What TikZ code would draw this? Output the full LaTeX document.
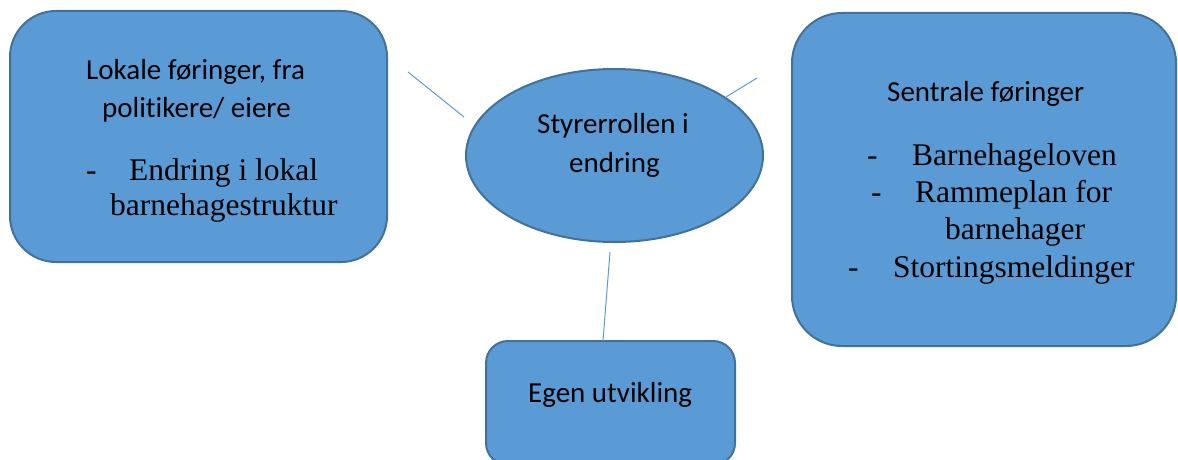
\documentclass[tikz,border=0pt]{standalone}
\usepackage{fontspec}
\setmainfont{Liberation Serif}
\newfontfamily\calfont[Ligatures={NoCommon}]{Carlito}
\usetikzlibrary{shapes.geometric}
\definecolor{boxfill}{HTML}{5B9BD5}
\definecolor{boxline}{HTML}{41719C}
\definecolor{linkcol}{HTML}{5B9BD5}
\tikzset{
  boxshape/.style={draw=boxline, fill=boxfill, line width=2pt, inner sep=0pt, outer sep=0pt},
  sanstext/.style={anchor=base west, inner sep=0pt, font=\calfont\fontsize{29}{35}\selectfont},
  seriftext/.style={anchor=base west, inner sep=0pt, font=\fontsize{31.5}{37}\selectfont},
  link/.style={draw=linkcol, line width=1pt}
}
\begin{document}
\begin{tikzpicture}[x=1pt,y=-1pt]
\useasboundingbox (0,0) rectangle (1178,460);
% boxes
\node[boxshape, rounded corners=46pt, minimum width=377pt, minimum height=251pt] (lokal) at (198.5,136.5) {};
\node[boxshape, rounded corners=50pt, minimum width=384pt, minimum height=333pt] (sentral) at (984,179.5) {};
\node[boxshape, rounded corners=22pt, minimum width=249pt, minimum height=124pt] (egen) at (610.5,403) {};
\node[boxshape, ellipse, minimum width=297pt, minimum height=173pt] (styr) at (614.5,155.5) {};
% texts
\node[sanstext] (t1) at (86,79) {Lokale føringer, fra};
\node[sanstext] (t2) at (102,117) {politikere/ eiere};
\node[seriftext] (d1) at (86,180) {-};
\node[seriftext] (t3) at (129,180) {Endring i lokal};
\node[seriftext] (t4) at (110,215) {barnehagestruktur};
\node[sanstext] (s1) at (887,102) {Sentrale føringer};
\node[seriftext] (d2) at (867,165) {-};
\node[seriftext] (s2) at (912,165) {Barnehageloven};
\node[seriftext] (d3) at (871,202) {-};
\node[seriftext] (s3) at (915,202) {Rammeplan for};
\node[seriftext] (s4) at (945,239) {barnehager};
\node[seriftext] (d4) at (848,277) {-};
\node[seriftext] (s5) at (893,277) {Stortingsmeldinger};
\node[sanstext] (e1) at (537,133) {Styrerrollen i};
\node[sanstext] (e2) at (569,172) {endring};
\node[sanstext] (g1) at (528,402) {Egen utvikling};
% connectors
\coordinate (la) at (408,72);
\coordinate (lb) at (464,117);
\coordinate (ra) at (757,78);
\coordinate (rb) at (726,97);
\coordinate (ba) at (610,252);
\coordinate (bb) at (603,341);
\draw[link] (la) -- (lb);
\draw[link] (ra) -- (rb);
\draw[link] (ba) -- (bb);
\end{tikzpicture}
\end{document}
